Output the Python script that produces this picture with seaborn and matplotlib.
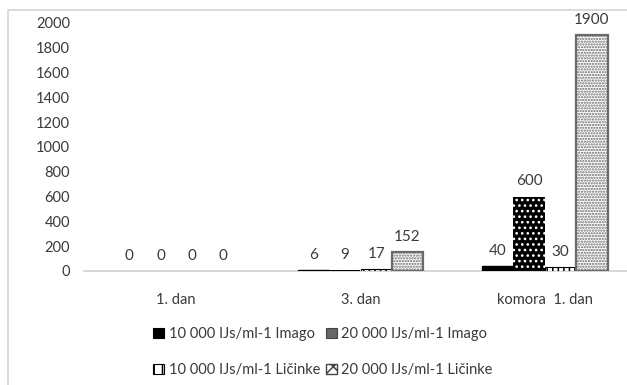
"""Bar chart: IJs counts per day (recreated)"""

import matplotlib

matplotlib.use("Agg")
import matplotlib.pyplot as plt
import pandas as pd
import seaborn as sns
from matplotlib.patches import Patch, Rectangle

categories = ["1. dan", "3. dan", "komora  1. dan"]
series_names = [
    "10 000 IJs/ml-1 Imago",
    "20 000 IJs/ml-1 Imago",
    "10 000 IJs/ml-1 Ličinke",
    "20 000 IJs/ml-1 Ličinke",
]
imago_10k = [0, 6, 40]
imago_20k = [0, 9, 600]
licinke_10k = [0, 17, 30]
licinke_20k = [0, 152, 1900]
y_ticks = [0, 200, 400, 600, 800, 1000, 1200, 1400, 1600, 1800, 2000]

rows = []
for name, vals in zip(series_names, [imago_10k, imago_20k, licinke_10k, licinke_20k]):
    for cat, v in zip(categories, vals):
        rows.append({"kategorija": cat, "serija": name, "vrijednost": v})
df = pd.DataFrame(rows)

sns.set_style("white")
plt.rcParams["font.family"] = ["Lato", "DejaVu Sans"]
plt.rcParams["hatch.linewidth"] = 1.1
text_color = "#3a3a3a"

fig = plt.figure(figsize=(6.27, 3.85), dpi=100)
ax = fig.add_axes([84 / 627, 1 - 271 / 385, 553 / 627, 248 / 385])

sns.barplot(
    data=df, x="kategorija", y="vrijednost", hue="serija",
    hue_order=series_names, order=categories,
    width=0.68, gap=0, legend=False, ax=ax, saturation=1,
)

# Bar styles (Excel-like patterns)
styles = [
    dict(facecolor="black", edgecolor="black", hatch=None, linewidth=1),
    dict(facecolor="black", edgecolor="white", hatch="...", linewidth=0),
    dict(facecolor="white", edgecolor="black", hatch="|||", linewidth=0.8),
    dict(facecolor="white", edgecolor="#6a6a6a", hatch="......", linewidth=1.6),
]
for cont, st in zip(ax.containers, styles):
    for bar in cont:
        bar.set_facecolor(st["facecolor"])
        bar.set_edgecolor(st["edgecolor"])
        bar.set_hatch(st["hatch"])
        bar.set_linewidth(st["linewidth"] if bar.get_height() > 0 else 0)
    ax.bar_label(cont, padding=6, fontsize=11, color=text_color)

ax.set_xlim(-0.5, 2.5)
ax.set_ylim(0, 2000)
ax.set_yticks(y_ticks)
ax.set_xlabel("")
ax.set_ylabel("")
ax.tick_params(axis="y", length=0, pad=10, labelsize=10.5, labelcolor=text_color)
ax.tick_params(axis="x", length=0, pad=16, labelsize=10.5, labelcolor=text_color)
ax.set_xticks([-0.5, 0.5, 1.5, 2.5], minor=True)
ax.tick_params(axis="x", which="minor", length=4, direction="out", color="#c8c8c8", width=1)
for s in ["top", "right", "left"]:
    ax.spines[s].set_visible(False)
ax.spines["bottom"].set_color("#d0d0d0")
ax.spines["bottom"].set_linewidth(1.2)
ax.spines["bottom"].set_zorder(0)

# Chart frame
fig.patches.append(Rectangle((8 / 627, -0.1), 1.2, 1.1 - 10 / 385,
                             transform=fig.transFigure, fill=False,
                             edgecolor="#d4d4d4", linewidth=1.2))

handles = [
    Patch(facecolor="black", edgecolor="black", linewidth=0.8),
    Patch(facecolor="#666666", edgecolor="#444444", linewidth=0.8),
    Patch(facecolor="white", edgecolor="black", hatch="||", linewidth=0.8),
    Patch(facecolor="white", edgecolor="#444444", hatch="xx", linewidth=1),
]
order = [0, 2, 1, 3]  # legend fills row-wise like Excel
fig.legend(
    [handles[i] for i in order], [series_names[i] for i in order],
    loc="center", bbox_to_anchor=(323 / 627, 1 - 352 / 385),
    ncol=2, frameon=False, fontsize=10.5, handlelength=0.75, handleheight=0.75,
    handletextpad=0.3, columnspacing=0.4, labelspacing=1.5, labelcolor=text_color,
)

fig.savefig("out.png", dpi=100)
